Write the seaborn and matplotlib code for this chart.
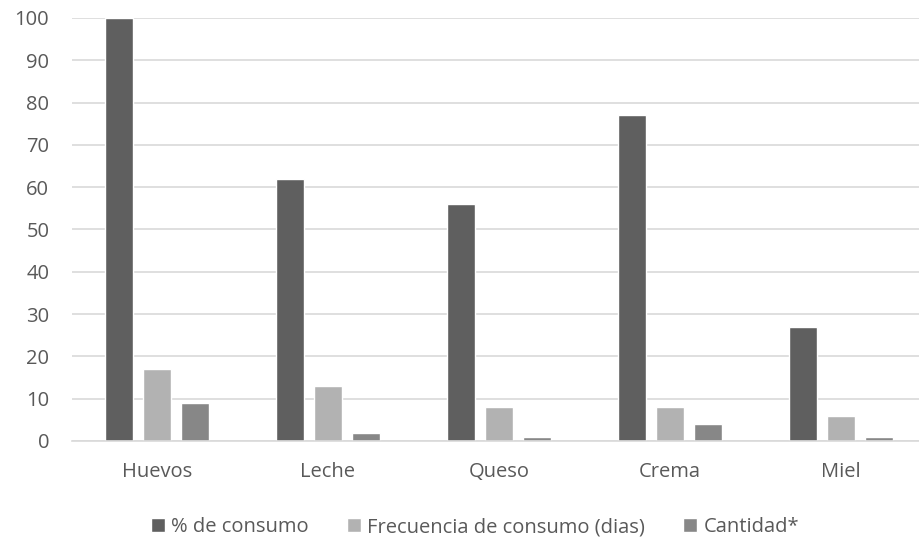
import matplotlib
matplotlib.use("Agg")
import matplotlib.pyplot as plt
import seaborn as sns
import pandas as pd

categories = ["Huevos", "Leche", "Queso", "Crema", "Miel"]
series_names = ["% de consumo", "Frecuencia de consumo (dias)", "Cantidad*"]
pct_consumo = [100, 62, 56, 77, 27]
frecuencia = [17, 13, 8, 8, 6]
cantidad = [9, 2, 1, 4, 1]
y_ticks = [0, 10, 20, 30, 40, 50, 60, 70, 80, 90, 100]

colors = ["#5f5f5f", "#b2b2b2", "#878787"]
text_color = "#595959"
grid_color = "#d9d9d9"
font_size = 14.5

df = pd.DataFrame({
    "categoria": categories * 3,
    "serie": [series_names[0]] * 5 + [series_names[1]] * 5 + [series_names[2]] * 5,
    "valor": pct_consumo + frecuencia + cantidad,
})

sns.set_theme(style="white")
plt.rcParams["font.family"] = ["Open Sans", "DejaVu Sans"]

fig = plt.figure(figsize=(9.19, 5.40), dpi=100)
ax = fig.add_axes([71.5 / 919, 1 - 441 / 540, 855 / 919, 423 / 540])

sns.barplot(
    data=df, x="categoria", y="valor", hue="serie",
    hue_order=series_names, order=categories,
    palette=colors, width=0.667, gap=0.24, saturation=1,
    ax=ax, legend=True,
)

ax.set_ylim(0, 100)
ax.set_yticks(y_ticks)
ax.set_xlim(-0.5, 4.5)
ax.yaxis.grid(True, color=grid_color, linewidth=1.2)
ax.set_axisbelow(True)
for s in ["left", "right", "top"]:
    ax.spines[s].set_visible(False)
ax.spines["bottom"].set_color(grid_color)
ax.spines["bottom"].set_linewidth(1.2)
ax.tick_params(axis="both", length=0, labelsize=font_size, labelcolor=text_color)
ax.tick_params(axis="y", pad=16)
ax.tick_params(axis="x", pad=15)
ax.set_xlabel("")
ax.set_ylabel("")

handles, labels = ax.get_legend_handles_labels()
ax.legend_.remove()
fig.legend(
    handles, labels, loc="center", bbox_to_anchor=(475 / 919, 1 - 527 / 540),
    ncol=3, frameon=False, fontsize=font_size, labelcolor=text_color,
    handlelength=0.7, handleheight=0.7, handletextpad=0.3, columnspacing=1.9,
)

fig.savefig("out.png", dpi=100)
